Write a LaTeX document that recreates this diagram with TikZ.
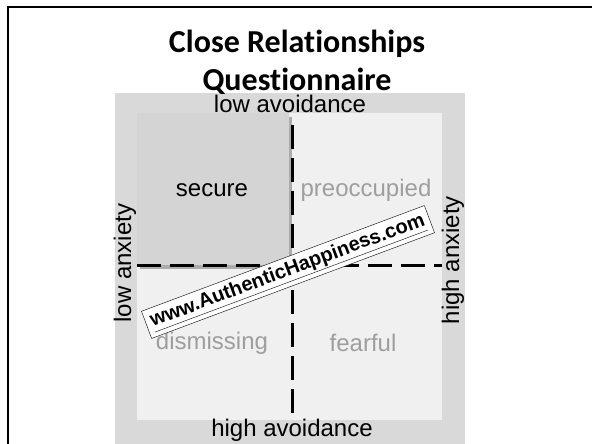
\documentclass[tikz,border=0pt]{standalone}
\usepackage{fontspec}
\setmainfont{Liberation Sans}
\newfontfamily\titlefont[Ligatures=NoCommon]{Carlito}
\usetikzlibrary{shadows}

\begin{document}
\begin{tikzpicture}[
    x=1pt, y=-1pt,
    every node/.style={inner sep=0pt, font=\fontsize{24}{27}\selectfont},
    heading/.style={anchor=base, font=\titlefont\bfseries\fontsize{32}{35}\selectfont},
    faded/.style={text=black!38},
    divider/.style={line width=3pt, dash pattern=on 24pt off 9pt}
]
\useasboundingbox (0,0) rectangle (592,444);
\draw[line width=2.5pt] (592,7) -- (8,7) -- (8,444);

\fill[black!15] (115,93) rectangle (465,444);
\fill[black!6] (137,113) rectangle (442,420);
\fill[black!17, drop shadow={shadow xshift=3pt, shadow yshift=-4pt, opacity=0.6}] (137,113) rectangle (289,265);
\draw[divider] (292,125) -- (292,420);
\draw[divider] (137,265) -- (442,265);

\node[heading] (title) at (297,53) {Close Relationships};
\node[heading] (subtitle) at (297,91) {Questionnaire};

\node (lowav) at (290,104) {low avoidance};
\node (highav) at (292,430) {high avoidance};
\node[rotate=90] (lowanx) at (125,263) {low anxiety};
\node[rotate=90] (highanx) at (453,260) {high anxiety};
\node (secure) at (212,190) {secure};
\node[faded] (preocc) at (366,190) {preoccupied};
\node[faded] (dismiss) at (212,343) {dismissing};
\node[faded] (fearful) at (363,343) {fearful};

\node[draw, thin, fill=white, rotate=20.5, minimum width=302, minimum height=29, font=\bfseries\fontsize{20}{23}\selectfont] (site) at (288,272) {\underline{www.AuthenticHappiness.com}};
\end{tikzpicture}
\end{document}
